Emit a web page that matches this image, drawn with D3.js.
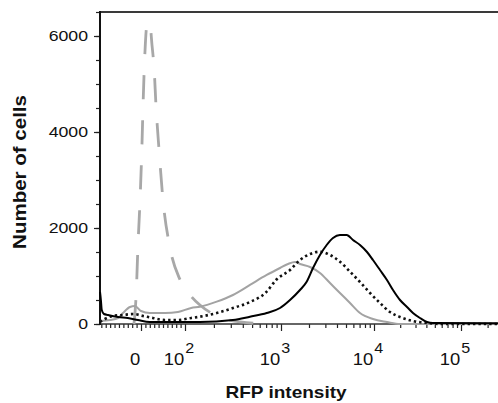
<!DOCTYPE html>
<html>
<head>
<meta charset="utf-8">
<script src="https://cdn.jsdelivr.net/npm/d3@7"></script>
<style>
  html, body { margin: 0; padding: 0; background: #fff; }
  svg { display: block; font-family: "Liberation Sans", Arial, sans-serif; }
</style>
</head>
<body>
<div id="chart"></div>
<script>
// RFP intensity (logicle-like axis) vs number of cells, 4 histograms
let unstainedRFP   = [-16, -14, -11, -7, -2, 2, 5, 9, 14, 16, 20, 25, 30, 34, 41, 50, 66, 89, 113, 143, 205, 374, 768];
let unstainedCount = [0, 188, 604, 1604, 2625, 3667, 4667, 5667, 6271, 6290, 6271, 5812, 5292, 4563, 3625, 2583, 1583, 917, 604, 396, 188, 42, 0];

let grayRFP   = [-93, -70, -52, -41, -25, -14, 0, 20, 55, 84, 116, 143, 214, 316, 475, 710, 977, 1190, 1415, 1600, 2051, 2625, 3365, 4305, 5522, 7070, 9750, 14090, 19900, 262144];
let grayCount = [63, 83, 125, 229, 354, 375, 271, 229, 229, 250, 333, 360, 465, 604, 813, 1021, 1167, 1250, 1292, 1250, 1188, 1063, 854, 646, 438, 229, 104, 42, 0, 0];

let dottedRFP   = [-93, -82, -64, -41, -18, 5, 27, 55, 84, 116, 143, 214, 316, 475, 710, 887, 1250, 1600, 2051, 2625, 3365, 4305, 5522, 7070, 9060, 11720, 15270, 19900, 28050, 40640, 57400, 262144];
let dottedCount = [42, 104, 167, 188, 208, 167, 125, 83, 83, 125, 152, 229, 333, 458, 673, 917, 1125, 1333, 1458, 1506, 1438, 1298, 1090, 875, 646, 438, 250, 146, 63, 21, 0, 0];

let blackRFP   = [-93, -91, -89, -84, -75, -52, -30, -7, 20, 66, 143, 316, 475, 710, 977, 1250, 1600, 1888, 2209, 2625, 3098, 3622, 4305, 5086, 5943, 7070, 8410, 9750, 11720, 14090, 16530, 19900, 23940, 28050, 33780, 40640, 47640, 262144];
let blackCount = [667, 500, 292, 208, 188, 146, 125, 83, 42, 42, 42, 83, 152, 229, 333, 500, 708, 881, 1167, 1438, 1646, 1792, 1854, 1854, 1750, 1646, 1500, 1333, 1125, 917, 708, 500, 354, 229, 125, 42, 21, 15];

let yTicks = [0, 2000, 4000, 6000];
let xTicks = [0, 1e2, 1e3, 1e4, 1e5];
let xTickBase = ["0", "10", "10", "10", "10"];
let xTickExp  = ["", "2", "3", "4", "5"];

let svgwidth = 498, svgheight = 403;
let svg = d3.select("#chart").append("svg")
  .attr("width", svgwidth)
  .attr("height", svgheight);

// linear near zero, log10 above 100 (slope matched at 100)
function logicle(v) {
  return v >= 100 ? Math.log10(v) : 2 + (v - 100) * Math.LOG10E / 100;
}

let xScale = d3.scaleLinear()
  .domain([-93, 0, 100, 1e3, 1e4, 1e5, 262144].map(logicle))
  .range([100, 141, 185, 281, 374, 461, 498]);

let yScale = d3.scaleLinear()
  .domain([0, 6500])
  .range([324, 12]);

// minor ticks
let xMinor = d3.range(-90, 0, 10).concat(d3.range(10, 100, 10));
[100, 1000, 10000].forEach(function(dec) {
  for (let k = 2; k <= 9; k++) xMinor.push(k * dec);
});
xMinor.push(200000);
let yMinor = d3.range(0, 6501, 500);

// frame
svg.append("line").attr("x1", 100).attr("x2", 498).attr("y1", 12).attr("y2", 12)
  .attr("stroke", "#3a3a3a").attr("stroke-width", 2);

// x axis
let xaxisMinor = d3.axisBottom(xScale).tickValues(xMinor.map(logicle)).tickSize(4).tickFormat("");
let xaxisMajor = d3.axisBottom(xScale).tickValues(xTicks.map(logicle)).tickSize(7).tickFormat("");
let gx1 = svg.append("g").attr("transform", "translate(0,324)").call(xaxisMinor);
let gx2 = svg.append("g").attr("transform", "translate(0,324)").call(xaxisMajor);
[gx1, gx2].forEach(function(g) {
  g.select(".domain").remove();
  g.selectAll("line").attr("stroke", "#222").attr("stroke-width", 1.2);
});
svg.append("line").attr("x1", 100).attr("x2", 498).attr("y1", 324).attr("y2", 324)
  .attr("stroke", "#333").attr("stroke-width", 1.5);

// y axis
let yaxisMinor = d3.axisLeft(yScale).tickValues(yMinor).tickSize(4).tickFormat("");
let yaxisMajor = d3.axisLeft(yScale).tickValues(yTicks).tickSize(6).tickFormat("");
let gy1 = svg.append("g").attr("transform", "translate(100,0)").call(yaxisMinor);
let gy2 = svg.append("g").attr("transform", "translate(100,0)").call(yaxisMajor);
[gy1, gy2].forEach(function(g) {
  g.select(".domain").remove();
  g.selectAll("line").attr("stroke", "#222").attr("stroke-width", 1.2);
});
svg.append("line").attr("x1", 100).attr("x2", 100).attr("y1", 11).attr("y2", 325)
  .attr("stroke", "#111").attr("stroke-width", 2);

// y tick labels
svg.selectAll(".ylab").data(yTicks).enter().append("text")
  .attr("class", "ylab")
  .attr("transform", d => `translate(88,${yScale(d)}) scale(1.18,1)`)
  .attr("dy", "0.36em")
  .attr("text-anchor", "end")
  .attr("font-size", "15px")
  .attr("fill", "#111")
  .text(d => d);

// x tick labels
xTicks.forEach(function(v, i) {
  let t = svg.append("text")
    .attr("transform", `translate(${xScale(logicle(v)) - 6},365) scale(1.15,1)`)
    .attr("text-anchor", "middle")
    .attr("font-size", "16px")
    .attr("fill", "#111");
  t.append("tspan").text(xTickBase[i]);
  if (xTickExp[i]) {
    t.append("tspan").attr("dy", -12).attr("dx", 1).attr("font-size", "14px").text(xTickExp[i]);
  }
});

// axis titles
svg.append("text")
  .attr("transform", "translate(286,398) scale(1.12,1)")
  .attr("text-anchor", "middle")
  .attr("font-size", "17px")
  .attr("font-weight", "bold")
  .attr("fill", "#111")
  .text("RFP intensity");

svg.append("text")
  .attr("transform", "translate(26,172) rotate(-90) scale(1.08,1)")
  .attr("text-anchor", "middle")
  .attr("font-size", "19px")
  .attr("font-weight", "bold")
  .attr("fill", "#111")
  .text("Number of cells");

// histograms
let line = d3.line()
  .x(d => xScale(logicle(d[0])))
  .y(d => yScale(d[1]))
  .curve(d3.curveMonotoneX);

function series(xs, ys) { return xs.map((v, i) => [v, ys[i]]); }

svg.append("path").datum(series(unstainedRFP, unstainedCount))
  .attr("d", line).attr("fill", "none")
  .attr("stroke", "#a8a8a8").attr("stroke-width", 2.8)
  .attr("stroke-dasharray", "24,21");

svg.append("path").datum(series(grayRFP, grayCount))
  .attr("d", line).attr("fill", "none")
  .attr("stroke", "#a3a3a3").attr("stroke-width", 2);

svg.append("path").datum(series(dottedRFP, dottedCount))
  .attr("d", line).attr("fill", "none")
  .attr("stroke", "#111").attr("stroke-width", 2.6)
  .attr("stroke-dasharray", "2.4,3");

svg.append("path").datum(series(blackRFP, blackCount))
  .attr("d", line).attr("fill", "none")
  .attr("stroke", "#000").attr("stroke-width", 2);
</script>
</body>
</html>
